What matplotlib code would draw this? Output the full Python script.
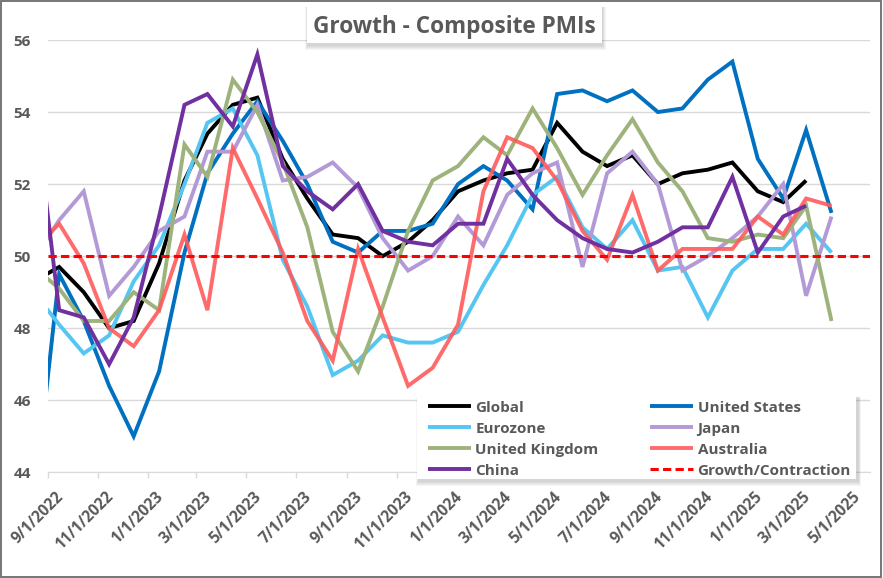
import numpy as np
import pandas as pd
import matplotlib
matplotlib.use("Agg")
import matplotlib.pyplot as plt
import matplotlib.transforms as mtransforms
from matplotlib.patches import Rectangle

# ---------------- data ----------------
# monthly observations (plotted mid-month), Aug 2022 .. Apr 2025
months = pd.date_range("2022-08-01", "2025-04-01", freq="MS") + pd.Timedelta(days=14)
nan = np.nan

global_pmi = [49.3, 49.7, 49.0, 48.0, 48.2, 49.8, 52.1, 53.4, 54.2, 54.4, 52.7, 51.6,
              50.6, 50.5, 50.0, 50.4, 51.0, 51.8, 52.1, 52.3, 52.4, 53.7, 52.9, 52.5,
              52.8, 52.0, 52.3, 52.4, 52.6, 51.8, 51.5, 52.1, nan]
us_pmi = [43.1, 49.5, 48.2, 46.4, 45.0, 46.8, 50.1, 52.3, 53.4, 54.3, 53.2, 52.0,
          50.4, 50.1, 50.7, 50.7, 50.9, 52.0, 52.5, 52.1, 51.3, 54.5, 54.6, 54.3,
          54.6, 54.0, 54.1, 54.9, 55.4, 52.7, 51.6, 53.5, 51.2]
eurozone_pmi = [49.0, 48.1, 47.3, 47.8, 49.3, 50.3, 52.0, 53.7, 54.1, 52.8, 49.9, 48.6,
                46.7, 47.1, 47.8, 47.6, 47.6, 47.9, 49.2, 50.3, 51.7, 52.2, 50.8, 50.2,
                51.0, 49.6, 49.7, 48.3, 49.6, 50.2, 50.2, 50.9, 50.1]
japan_pmi = [49.9, 51.0, 51.8, 48.9, 49.7, 50.7, 51.1, 52.9, 52.9, 54.2, 52.1, 52.2,
             52.6, 51.9, 50.5, 49.6, 50.0, 51.1, 50.3, 51.7, 52.3, 52.6, 49.7, 52.3,
             52.9, 52.0, 49.6, 50.0, 50.5, 51.1, 52.0, 48.9, 51.1]
uk_pmi = [49.7, 49.1, 48.2, 48.2, 49.0, 48.5, 53.1, 52.2, 54.9, 54.0, 52.6, 50.8,
          47.9, 46.8, 48.6, 50.7, 52.1, 52.5, 53.3, 52.8, 54.1, 53.0, 51.7, 52.8,
          53.8, 52.6, 51.8, 50.5, 50.4, 50.6, 50.5, 51.4, 48.2]
australia_pmi = [50.2, 50.9, 49.8, 48.0, 47.5, 48.5, 50.6, 48.5, 53.0, 51.6, 50.1, 48.2,
                 47.1, 50.2, 48.3, 46.4, 46.9, 48.1, 51.8, 53.3, 53.0, 52.1, 50.7, 49.9,
                 51.7, 49.6, 50.2, 50.2, 50.2, 51.1, 50.6, 51.6, 51.4]
china_pmi = [54.4, 48.5, 48.3, 47.0, 48.3, 51.1, 54.2, 54.5, 53.6, 55.6, 52.5, 51.8,
             51.3, 52.0, 50.7, 50.4, 50.3, 50.9, 50.9, 52.7, 51.7, 51.0, 50.5, 50.2,
             50.1, 50.4, 50.8, 50.8, 52.2, 50.1, 51.1, 51.4, nan]
threshold = 50

series_names = ["Global", "United States", "Eurozone", "Japan",
                "United Kingdom", "Australia", "China"]
series_values = [global_pmi, us_pmi, eurozone_pmi, japan_pmi,
                 uk_pmi, australia_pmi, china_pmi]
threshold_name = "Growth/Contraction"

y_ticks = [44, 46, 48, 50, 52, 54, 56]
x_tick_dates = pd.date_range("2022-09-01", "2025-05-01", freq="2MS")
x_tick_labels = [f"{d.month}/{d.day}/{d.year}" for d in x_tick_dates]
title = "Growth - Composite PMIs"

# ---------------- style ----------------
colors = {"Global": "#000000", "United States": "#0070C0", "Eurozone": "#55C6F2",
          "Japan": "#B39AD6", "United Kingdom": "#9DB37B", "Australia": "#FF5B5B",
          "China": "#7030A0"}
alphas = {"Global": 1, "United States": 1, "Eurozone": 1, "Japan": 1,
          "United Kingdom": 1, "Australia": 0.9, "China": 1}
TXT = "#595959"
FONT = ["Open Sans", "DejaVu Sans"]
plt.rcParams["font.family"] = FONT
plt.rcParams["font.weight"] = "bold"

W, H = 883, 578
fig = plt.figure(figsize=(W / 100, H / 100), dpi=100)
ax = fig.add_axes([47.7 / W, 1 - 472.3 / H, (870 - 47.7) / W, (472.3 - 40) / H])


def px_rect(x0, y0, x1, y1, **kw):
    """Rectangle given in pixel coordinates measured from the top-left corner."""
    r = Rectangle((x0 / W, 1 - y1 / H), (x1 - x0) / W, (y1 - y0) / H,
                  transform=fig.transFigure, **kw)
    fig.patches.append(r)
    return r


def soft_shadow(x0, y0, x1, y1, dx, dy, blur, zorder):
    for i in range(blur, 0, -1):
        px_rect(x0 + dx - i * 0.6, y0 + dy - i * 0.3, x1 + dx + i * 0.6, y1 + dy + i,
                fc="#7a7a7a", ec="none", alpha=0.07, zorder=zorder)


lines = {}
for name, vals in zip(series_names, series_values):
    ln, = ax.plot(months, vals, color=colors[name], lw=2.8, alpha=alphas[name],
                  label=name, solid_joinstyle="miter", solid_capstyle="butt")
    lines[name] = ln
thr = ax.axhline(threshold, color="#FF0000", lw=2.2, ls=(0, (2.7, 1.4)),
                 label=threshold_name)

ax.set_xlim(pd.Timestamp("2022-09-01"), pd.Timestamp("2025-06-01"))
ax.set_ylim(44, 56)
ax.set_yticks(y_ticks)
ax.set_yticklabels([str(t) for t in y_ticks])
ax.set_xticks(x_tick_dates)
ax.set_xticklabels(x_tick_labels, rotation=45, ha="right", va="baseline",
                   rotation_mode="anchor")
ax.tick_params(axis="y", length=0, pad=12, labelsize=11, labelcolor=TXT)
ax.tick_params(axis="x", length=4.5, color="#D9D9D9", width=1, pad=13.5,
               labelsize=11.2, labelcolor=TXT)
offset = mtransforms.ScaledTranslation(0.163, 0, fig.dpi_scale_trans)
for lab in ax.get_xticklabels():
    lab.set_transform(lab.get_transform() + offset)
    lab.set_fontweight("bold")
for lab in ax.get_yticklabels():
    lab.set_fontweight("bold")

ax.grid(axis="y", color="#D9D9D9", lw=1)
ax.set_axisbelow(True)
for s in ["left", "right", "top"]:
    ax.spines[s].set_visible(False)
ax.spines["bottom"].set_color("#D9D9D9")

# legend panel (white box with soft shadow), entries laid out row-wise
LX0, LY0, LX1, LY1 = 417, 396, 856, 478.5
soft_shadow(LX0, LY0, LX1, LY1, 2, 2, 5, zorder=8)
px_rect(LX0, LY0, LX1, LY1, fc="white", ec="none", zorder=9)

order = ["Global", "Eurozone", "United Kingdom", "China",
         "United States", "Japan", "Australia"]
handles = [lines[n] for n in order] + [thr]
labels = order + [threshold_name]
leg = fig.legend(handles, labels, ncol=2, loc="upper left",
                 bbox_to_anchor=(428 / W, 1 - 478 / H, (851 - 428) / W, (478 - 400.5) / H),
                 bbox_transform=fig.transFigure, mode="expand", frameon=False,
                 prop={"family": FONT, "weight": "bold", "size": 11},
                 handlelength=2.8, handletextpad=0.3, labelspacing=0.46,
                 borderpad=0, borderaxespad=0, columnspacing=1.0)
for t in leg.get_texts():
    t.set_color(TXT)
leg.set_zorder(10)

# title box with soft shadow
TX0, TY0, TX1, TY1 = 307, 6, 601.5, 43
soft_shadow(TX0, TY0, TX1, TY1, 1, 2, 5, zorder=18)
px_rect(TX0, TY0, TX1, TY1, fc="white", ec="none", zorder=19)
fig.text(454.5 / W, 1 - 33.3 / H, title, ha="center", va="baseline", fontsize=16.3,
         fontweight="bold", color=TXT, zorder=21)

# outer border
px_rect(1, 1, W - 2, H - 1.5, fill=False, ec="#6b6b6b", lw=1.3, zorder=30)

fig.savefig("out.png", dpi=100)
